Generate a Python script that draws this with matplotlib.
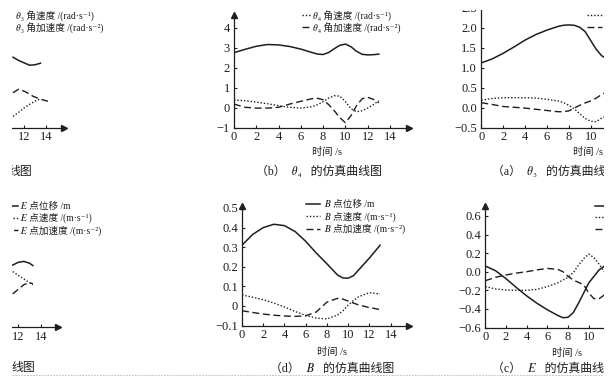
import matplotlib
matplotlib.use('Agg')
import matplotlib.pyplot as plt
from matplotlib import font_manager as fm, ft2font
from matplotlib.patches import Rectangle
from matplotlib.lines import Line2D

W, H, DPI = 610, 379, 100

# ---------------- data ----------------
# (a) theta3, main panel (top right)
t_a = [0, 1, 2, 3, 4, 5, 6, 7, 7.5, 8, 8.5, 9, 9.5, 10, 10.5, 11, 11.5, 12, 12.5, 13]
a_disp = [1.12, 1.22, 1.36, 1.52, 1.69, 1.83, 1.94, 2.03, 2.06, 2.07, 2.06, 2.01, 1.90, 1.68, 1.46, 1.30, 1.22, 1.15, 1.10, 1.08]
a_vel = [0.19, 0.23, 0.25, 0.25, 0.25, 0.24, 0.21, 0.17, 0.13, 0.06, -0.03, -0.15, -0.27, -0.34, -0.35, -0.26, -0.20, -0.10, 0.0, 0.10]
a_acc = [0.125, 0.08, 0.03, 0.01, -0.01, -0.04, -0.07, -0.10, -0.10, -0.08, -0.01, 0.06, 0.12, 0.17, 0.24, 0.33, 0.40, 0.44, 0.38, 0.28]

# fragment of theta3 panel (top left)
tf_a = [11.0, 11.5, 12.0, 12.5, 13.0, 13.5]
fa_disp = [1.26, 1.18, 1.12, 1.06, 1.07, 1.11]
fa_vel = [-0.22, -0.12, -0.01, 0.08, 0.16, 0.22]
tf_a_acc = [11.0, 11.5, 12.1, 12.85, 13.5, 14.3]
fa_acc = [0.37, 0.46, 0.40, 0.28, 0.21, 0.15]

# (b) theta4 (top middle)
t_b = [0, 1, 2, 3, 4, 5, 6, 7, 7.5, 8, 8.5, 9, 9.5, 10, 10.5, 11, 11.5, 12, 12.5, 13]
b_disp = [2.75, 2.92, 3.07, 3.16, 3.14, 3.06, 2.93, 2.76, 2.68, 2.66, 2.76, 2.95, 3.12, 3.18, 3.05, 2.82, 2.67, 2.64, 2.65, 2.68]
b_vel = [0.38, 0.35, 0.28, 0.20, 0.10, 0.02, -0.02, 0.05, 0.15, 0.30, 0.48, 0.60, 0.58, 0.30, -0.05, -0.20, -0.15, -0.02, 0.15, 0.35]
b_acc = [0.18, 0.02, -0.02, -0.02, 0.02, 0.18, 0.32, 0.45, 0.47, 0.40, 0.15, -0.15, -0.50, -0.75, -0.40, 0.10, 0.45, 0.52, 0.42, 0.25]

# (d) point B (bottom middle)
t_d = [0, 1, 2, 3, 4, 5, 6, 7, 8, 9, 9.5, 10, 10.5, 11, 12, 13]
d_disp = [0.31, 0.365, 0.40, 0.417, 0.41, 0.38, 0.33, 0.27, 0.215, 0.158, 0.143, 0.142, 0.155, 0.185, 0.245, 0.31]
d_vel = [0.056, 0.045, 0.032, 0.015, -0.005, -0.028, -0.048, -0.062, -0.066, -0.046, -0.025, 0.005, 0.028, 0.048, 0.068, 0.061]
d_acc = [-0.024, -0.033, -0.041, -0.047, -0.051, -0.053, -0.050, -0.030, 0.020, 0.039, 0.035, 0.025, 0.015, 0.005, -0.008, -0.018]

# (c) point E (bottom right)
t_c = [0, 1, 2, 3, 4, 5, 6, 7, 7.5, 8, 8.5, 9, 9.5, 10, 10.5, 11, 11.5, 12, 13]
c_disp = [0.061, 0.01, -0.075, -0.17, -0.26, -0.34, -0.41, -0.47, -0.495, -0.49, -0.44, -0.34, -0.23, -0.12, -0.05, 0.02, 0.06, 0.09, 0.10]
c_vel = [-0.16, -0.185, -0.197, -0.20, -0.20, -0.19, -0.16, -0.12, -0.09, -0.06, -0.01, 0.07, 0.14, 0.19, 0.15, 0.08, 0.0, -0.04, -0.12]
c_acc = [-0.097, -0.06, -0.035, -0.015, 0.0, 0.02, 0.035, 0.025, 0.0, -0.05, -0.09, -0.115, -0.14, -0.23, -0.29, -0.29, -0.25, -0.19, -0.12]

# fragment of point E panel (bottom left)
tf_c = [11.5, 12.0, 12.5, 13.0, 13.3]
fc_disp = [0.07, 0.10, 0.11, 0.09, 0.065]
fc_vel = [0.0, -0.04, -0.08, -0.12, -0.14]
fc_acc = [-0.24, -0.19, -0.14, -0.12, -0.13]

x_ticks = [0, 2, 4, 6, 8, 10, 12, 14]
x_ticklabels = ['0', '2', '4', '6', '8', '10', '12', '14']
a_xticks = [0, 2, 4, 6, 8, 10]
a_xticklabels = ['0', '2', '4', '6', '8', '10']
c_xticks = [0, 2, 4, 6, 8, 10]
c_xticklabels = ['0', '2', '4', '6', '8', '10']
frag_xticks = [12, 14]
frag_xticklabels = ['12', '14']
a_yticks = [-0.5, 0.0, 0.5, 1.0, 1.5, 2.0, 2.5]
a_yticklabels = ['\u22120.5', '0.0', '0.5', '1.0', '1.5', '2.0', '2.5']
b_yticks = [-1, 0, 1, 2, 3, 4]
b_yticklabels = ['\u22121', '0', '1', '2', '3', '4']
d_yticks = [-0.1, 0, 0.1, 0.2, 0.3, 0.4, 0.5]
d_yticklabels = ['\u22120.1', '0', '0.1', '0.2', '0.3', '0.4', '0.5']
c_yticks = [-0.6, -0.4, -0.2, 0.0, 0.2, 0.4, 0.6]
c_yticklabels = ['\u22120.6', '\u22120.4', '\u22120.2', '0.0', '0.2', '0.4', '0.6']

# ---------------- fonts ----------------
def glyph_ok(ch, family):
    try:
        path = fm.findfont(fm.FontProperties(family=family), fallback_to_default=False)
        return ft2font.FT2Font(path).get_char_index(ord(ch)) != 0
    except Exception:
        return False

use_math_it = all(glyph_ok(c, 'STIXGeneral') for c in '\U0001D703\U0001D435\U0001D438')
TH = '\U0001D703' if use_math_it else '\u03b8'
BB = '\U0001D435' if use_math_it else 'B'
EE = '\U0001D438' if use_math_it else 'E'

FAM = ['Liberation Serif', 'STIXGeneral', 'DejaVu Serif', 'Noto Sans CJK SC']
plt.rcParams['font.family'] = FAM
plt.rcParams['axes.unicode_minus'] = True

INK = '#1e1e1e'
SOLID = dict(color=INK, lw=1.1, ls='-')
DOT = dict(color=INK, lw=1.0, ls=(0, (1.0, 1.4)))
DASH = dict(color=INK, lw=1.0, ls=(0, (5.0, 2.6)))
TICKFS = 9.0
LEGFS = 6.9

fig = plt.figure(figsize=(W / DPI, H / DPI), dpi=DPI)
fig.patch.set_facecolor('white')


def fxy(px, py):
    return (px / W, 1 - py / H)


def make_axes(x0, sx, y0, sy, xlim, ylim, xticks, xticklabels,
              yticks=None, yticklabels=None, yarrow=True):
    left = x0 + xlim[0] * sx
    right = x0 + xlim[1] * sx
    bottom = y0 - ylim[0] * sy
    top = y0 - ylim[1] * sy
    ax = fig.add_axes([left / W, 1 - bottom / H, (right - left) / W, (bottom - top) / H])
    ax.set_xlim(xlim)
    ax.set_ylim(ylim)
    ax.patch.set_alpha(0)
    for s in ('top', 'right'):
        ax.spines[s].set_visible(False)
    for s in ('left', 'bottom'):
        ax.spines[s].set_linewidth(0.9)
        ax.spines[s].set_color(INK)
    ax.set_xticks(xticks)
    ax.set_xticklabels(xticklabels)
    if yticks is not None:
        ax.set_yticks(yticks)
        ax.set_yticklabels(yticklabels)
    else:
        ax.set_yticks([])
        ax.spines['left'].set_visible(False)
    ax.tick_params(axis='both', direction='in', length=2.5, width=0.8, colors=INK, labelsize=TICKFS)
    ax.tick_params(axis='x', pad=2.6)
    ax.tick_params(axis='y', pad=3.0)
    ax.plot([1], [0], marker='>', ms=4.5, color=INK, transform=ax.transAxes, clip_on=False)
    if yarrow and yticks is not None:
        ax.plot([0], [1], marker='^', ms=4.5, color=INK, transform=ax.transAxes, clip_on=False)
    return ax


def add_legend(ax, handles, labels, x_px, top_px, hl=1.6, htp=0.3, ls=0.2):
    return ax.legend(handles, labels, loc='upper left', bbox_to_anchor=fxy(x_px, top_px),
                     bbox_transform=fig.transFigure, frameon=False, fontsize=LEGFS,
                     handlelength=hl, handletextpad=htp, labelspacing=ls,
                     borderpad=0, borderaxespad=0, labelcolor=INK)


def draw3(ax, t1, y1, t2, y2, t3, y3):
    l1, = ax.plot(t1, y1, **SOLID)
    l2, = ax.plot(t2, y2, **DOT)
    l3, = ax.plot(t3, y3, **DASH)
    return l1, l2, l3


lab_th3 = [TH + '\u2083 角速度 /(rad\u00b7s\u207b\u00b9)', TH + '\u2083 角加速度 /(rad\u00b7s\u207b\u00b2)']
lab_th4 = [TH + '\u2084 角速度 /(rad\u00b7s\u207b\u00b9)', TH + '\u2084 角加速度 /(rad\u00b7s\u207b\u00b2)']
lab_B = [BB + ' 点位移 /m', BB + ' 点速度 /(m\u00b7s\u207b\u00b9)', BB + ' 点加速度 /(m\u00b7s\u207b\u00b2)']
lab_E = [EE + ' 点位移 /m', EE + ' 点速度 /(m\u00b7s\u207b\u00b9)', EE + ' 点加速度 /(m\u00b7s\u207b\u00b2)']

# ---- top-left fragment (theta3 continued)
ax_fa = make_axes(-108, 11.0, 107.6, 40, (0, 15.64), (-0.5, 2.9), frag_xticks, frag_xticklabels)
s, d1, d2 = draw3(ax_fa, tf_a, fa_disp, tf_a, fa_vel, tf_a_acc, fa_acc)
add_legend(ax_fa, [d1, d2], lab_th3, 1.7, 10.0, hl=1.05, htp=0.45, ls=0.17)

# ---- (b) theta4
ax_b = make_axes(234, 11.14, 107.7, 20, (0, 15.7), (-1, 4.66), x_ticks, x_ticklabels,
                 b_yticks, b_yticklabels)
s, d1, d2 = draw3(ax_b, t_b, b_disp, t_b, b_vel, t_b, b_acc)
add_legend(ax_b, [d1, d2], lab_th4, 301.7, 10.0, hl=1.05, htp=0.17, ls=0.09)

# ---- (a) theta3
ax_a = make_axes(481.3, 10.94, 107.7, 40, (0, 16), (-0.5, 2.9), a_xticks, a_xticklabels,
                 a_yticks, a_yticklabels)
s, d1, d2 = draw3(ax_a, t_a, a_disp, t_a, a_vel, t_a, a_acc)
add_legend(ax_a, [d1, d2], lab_th3, 587, 10.0, hl=1.55, htp=0.5, ls=0.12)

# ---- bottom-left fragment (E continued)
ax_fc = make_axes(-116.1, 11.2, 271.6, 93, (0, 15.5), (-0.6, 0.75), frag_xticks, frag_xticklabels)
l1, l2, l3 = draw3(ax_fc, tf_c, fc_disp, tf_c, fc_vel, tf_c, fc_acc)
add_legend(ax_fc, [l1, l2, l3], lab_E, 2.8, 202.0, hl=1.6, htp=0.2, ls=0.2)

# ---- (d) point B
ax_d = make_axes(242, 10.62, 306, 196, (0, 15.69), (-0.1, 0.512), x_ticks, x_ticklabels,
                 d_yticks, d_yticklabels)
l1, l2, l3 = draw3(ax_d, t_d, d_disp, t_d, d_vel, t_d, d_acc)
add_legend(ax_d, [l1, l2, l3], lab_B, 306.3, 200.0, hl=1.4, htp=0.45, ls=0.25)

# ---- (c) point E
ax_c = make_axes(485.3, 10.35, 271.7, 93, (0, 16), (-0.6, 0.702), c_xticks, c_xticklabels,
                 c_yticks, c_yticklabels)
l1, l2, l3 = draw3(ax_c, t_c, c_disp, t_c, c_vel, t_c, c_acc)
add_legend(ax_c, [l1, l2, l3], lab_E, 595.3, 202.3, hl=1.55, htp=0.5, ls=0.15)

# ---- axis titles and captions
xl = '时间 /s'
for (px, py) in [(326.7, 152), (588, 152), (331.7, 352), (567.5, 352.7)]:
    fig.text(*fxy(px, py), xl, ha='center', va='center', fontsize=7.4, color=INK)

CAP = 8.6
fig.text(*fxy(318.5, 172), '（b）  ' + TH + '\u2084   的仿真曲线图', ha='center', va='center', fontsize=CAP, color=INK)
fig.text(*fxy(492, 172), '（a）  ' + TH + '\u2083   的仿真曲线图', ha='left', va='center', fontsize=CAP, color=INK)
fig.text(*fxy(32, 172), '线图', ha='right', va='center', fontsize=CAP, color=INK)
fig.text(*fxy(332.5, 368.5), '（d）  ' + BB + '   的仿真曲线图', ha='center', va='center', fontsize=CAP, color=INK)
fig.text(*fxy(492, 368.5), '（c）  ' + EE + '   的仿真曲线图', ha='left', va='center', fontsize=CAP, color=INK)
fig.text(*fxy(35, 368.5), '线图', ha='right', va='center', fontsize=CAP, color=INK)

# page rule under the captions
fig.add_artist(Line2D([12 / W, 604 / W], [1 - 374.5 / H] * 2, transform=fig.transFigure,
                      color='#b5b5b5', lw=0.6, ls=(0, (2, 1.5)), zorder=5))

# blank margins of the scanned crop (left, right, top)
for (x0, y0, w, h) in [(0, 0, 12, H), (604, 0, W - 604, H), (0, 0, W, 9.5)]:
    fig.add_artist(Rectangle((x0 / W, 1 - (y0 + h) / H), w / W, h / H, transform=fig.transFigure,
                             facecolor='white', edgecolor='none', zorder=100))

fig.savefig('out.png', dpi=DPI)
